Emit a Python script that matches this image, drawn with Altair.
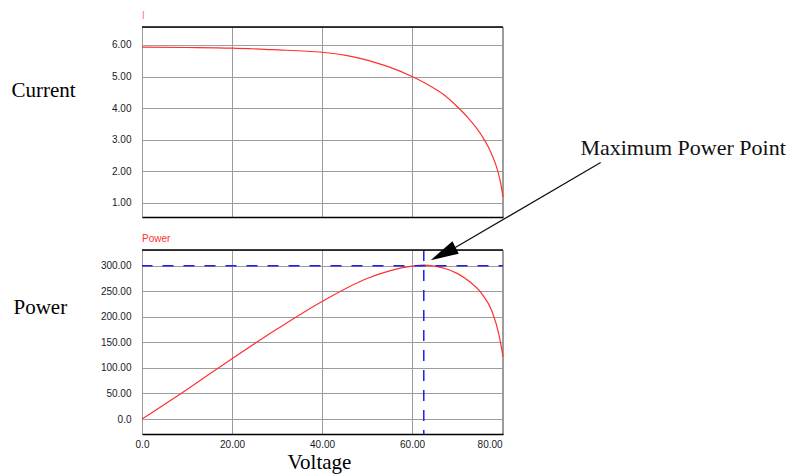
import altair as alt
import pandas as pd

# ---------------- data ----------------
# Current panel: I versus Voltage
i_volt = [0, 10, 20, 28.9, 40, 45, 50, 53.3, 55, 60, 64.4, 67, 70, 72.5, 75.6, 77, 78.5, 79.5, 80.2]
i_amp = [5.93, 5.92, 5.90, 5.85, 5.77, 5.68, 5.52, 5.38, 5.30, 5.00, 4.67, 4.43, 4.05, 3.68, 3.10, 2.75, 2.25, 1.75, 1.19]

# Power panel: Power versus Voltage
p_volt = [0, 10, 20, 30, 40, 50, 55, 60, 62.6, 65, 67.5, 70, 72.6, 75.6, 77.8, 79.3, 80.2]
p_watt = [0, 58, 118, 176, 230, 275, 290, 299, 301, 299, 294, 285, 270, 244, 210, 165, 122]

# maximum power point
mpp_volt = [62.6]
mpp_watt = [300]

# tick values
x_ticks = [0, 20, 40, 60, 80]
i_ticks = [1, 2, 3, 4, 5, 6]
p_ticks = [0, 50, 100, 150, 200, 250, 300]

# annotation text
annot_text = ["Maximum Power Point"]

# ---------------- styling ----------------
SANS = "Liberation Sans"
SERIF = "Liberation Serif"
RED = "#ff3030"
BLUE = "#1f1fe6"
GRID = "#9c9c9c"
LABEL = "#1a1a26"

W = 361
H_TOP = 190
H_BOT = 184

xs = alt.Scale(domain=[0, 80.2], nice=False, zero=False)
i_scale = alt.Scale(domain=[0.55, 6.57], nice=False, zero=False)
p_scale = alt.Scale(domain=[-29.3, 330.7], nice=False, zero=False)

label_expr = "datum.value == 0 ? '0.0' : format(datum.value, '.2f')"


def x_axis(show_labels, title=None):
    kw = dict(
        values=x_ticks,
        labels=show_labels,
        labelExpr=label_expr,
        labelFont=SANS,
        labelFontSize=10,
        labelColor=LABEL,
        labelPadding=5,
        labelOverlap=False,
        labelAlign={"condition": {"test": "datum.value >= 80", "value": "right"}, "value": "center"},
        ticks=False,
        domain=True,
        domainColor="black",
        domainWidth=1.5,
        grid=True,
        gridColor=GRID,
        gridWidth=1,
        gridOpacity=1,
    )
    if title:
        kw.update(
            title=title,
            titleFont=SERIF,
            titleFontSize=21,
            titleFontWeight="normal",
            titleColor="black",
            titleBaseline="alphabetic",
            titleAlign="center",
            titleX=177,
            titleY=34,
        )
    else:
        kw.update(title=None)
    return alt.Axis(**kw)


def y_axis(values, title, tx, ty):
    return alt.Axis(
        values=values,
        labelExpr=label_expr,
        labelFont=SANS,
        labelFontSize=10,
        labelColor=LABEL,
        labelPadding=11,
        labelOverlap=False,
        ticks=False,
        domain=False,
        grid=True,
        gridColor=GRID,
        gridWidth=1,
        gridOpacity=1,
        title=title,
        titleFont=SERIF,
        titleFontSize=21,
        titleFontWeight="normal",
        titleColor="black",
        titleAngle=0,
        titleAlign="left",
        titleBaseline="alphabetic",
        titleX=tx,
        titleY=ty,
    )


one = pd.DataFrame({"k": [0]})

# ---------------- top panel: current ----------------
df_i = pd.DataFrame({"Voltage": i_volt, "I": i_amp})
curve_i = alt.Chart(df_i).mark_line(color=RED, strokeWidth=1.2, interpolate="monotone").encode(
    x=alt.X("Voltage:Q", scale=xs, axis=x_axis(False)),
    y=alt.Y("I:Q", scale=i_scale, axis=y_axis(i_ticks, "Current", -131, 69)),
)
top_border_i = alt.Chart(one).mark_rule(color="black", strokeWidth=1.5).encode(y=alt.value(0))
tag_i = alt.Chart(one).mark_text(
    text="I", color="#ff7a7a", font=SANS, fontSize=10, align="left", baseline="alphabetic"
).encode(x=alt.value(0), y=alt.value(-8))

top = alt.layer(curve_i, top_border_i, tag_i).properties(width=W, height=H_TOP)

# ---------------- bottom panel: power ----------------
XB = x_axis(True, "Voltage")
PY = y_axis(p_ticks, "Power", -129, 63)

df_p = pd.DataFrame({"Voltage": p_volt, "Power": p_watt})
df_mpp = pd.DataFrame({"Voltage": mpp_volt, "Power": mpp_watt})

curve_p = alt.Chart(df_p).mark_line(color=RED, strokeWidth=1.2, interpolate="monotone").encode(
    x=alt.X("Voltage:Q", scale=xs, axis=XB),
    y=alt.Y("Power:Q", scale=p_scale, axis=PY),
)
h_dash = alt.Chart(df_mpp).mark_rule(
    color=BLUE, strokeDash=[11, 10], strokeDashOffset=6.5, strokeWidth=1.5
).encode(y=alt.Y("Power:Q", scale=p_scale, axis=PY))
v_dash = alt.Chart(df_mpp).mark_rule(color=BLUE, strokeDash=[11, 9], strokeWidth=1.5).encode(
    x=alt.X("Voltage:Q", scale=xs, axis=XB)
)
top_border_p = alt.Chart(one).mark_rule(color="black", strokeWidth=1.5).encode(y=alt.value(0))
tag_p = alt.Chart(one).mark_text(
    text="Power", color=RED, font=SANS, fontSize=10, align="left", baseline="alphabetic"
).encode(x=alt.value(0), y=alt.value(-8))

# annotation: text + arrow pointing at the maximum power point (data coordinates)
df_txt = pd.DataFrame({"Voltage": [97.4], "Power": [516.0], "t": annot_text})
mpp_label = alt.Chart(df_txt).mark_text(
    font=SERIF, fontSize=22, color="#111111", align="left", baseline="alphabetic"
).encode(
    x=alt.X("Voltage:Q", scale=xs, axis=XB),
    y=alt.Y("Power:Q", scale=p_scale, axis=PY),
    text="t:N",
)
df_arrow = pd.DataFrame({"Voltage": [101.9], "Power": [501.9], "Voltage2": [69.6], "Power2": [335.5]})
arrow_line = alt.Chart(df_arrow).mark_rule(color="#111111", strokeWidth=1.3).encode(
    x=alt.X("Voltage:Q", scale=xs, axis=XB),
    y=alt.Y("Power:Q", scale=p_scale, axis=PY),
    x2="Voltage2:Q",
    y2="Power2:Q",
)
df_head = pd.DataFrame({"Voltage": [66.9], "Power": [323.3]})
arrow_head = alt.Chart(df_head).mark_point(
    shape="M0,-1L0.5,1L-0.5,1Z", filled=True, color="black", opacity=1, size=784, angle=243
).encode(
    x=alt.X("Voltage:Q", scale=xs, axis=XB),
    y=alt.Y("Power:Q", scale=p_scale, axis=PY),
)

bottom = alt.layer(
    curve_p, h_dash, v_dash, top_border_p, tag_p, mpp_label, arrow_line, arrow_head
).properties(width=W, height=H_BOT)

chart = (
    alt.vconcat(top, bottom, spacing=33, bounds="flush")
    .properties(
        padding={"left": 10, "top": 10, "right": 0, "bottom": 1},
        autosize=alt.AutoSizeParams(type="pad"),
        background="white",
    )
    .configure_view(stroke=GRID, strokeWidth=1)
)

chart.save("out.html", embed_options={"renderer": "svg", "actions": False})
